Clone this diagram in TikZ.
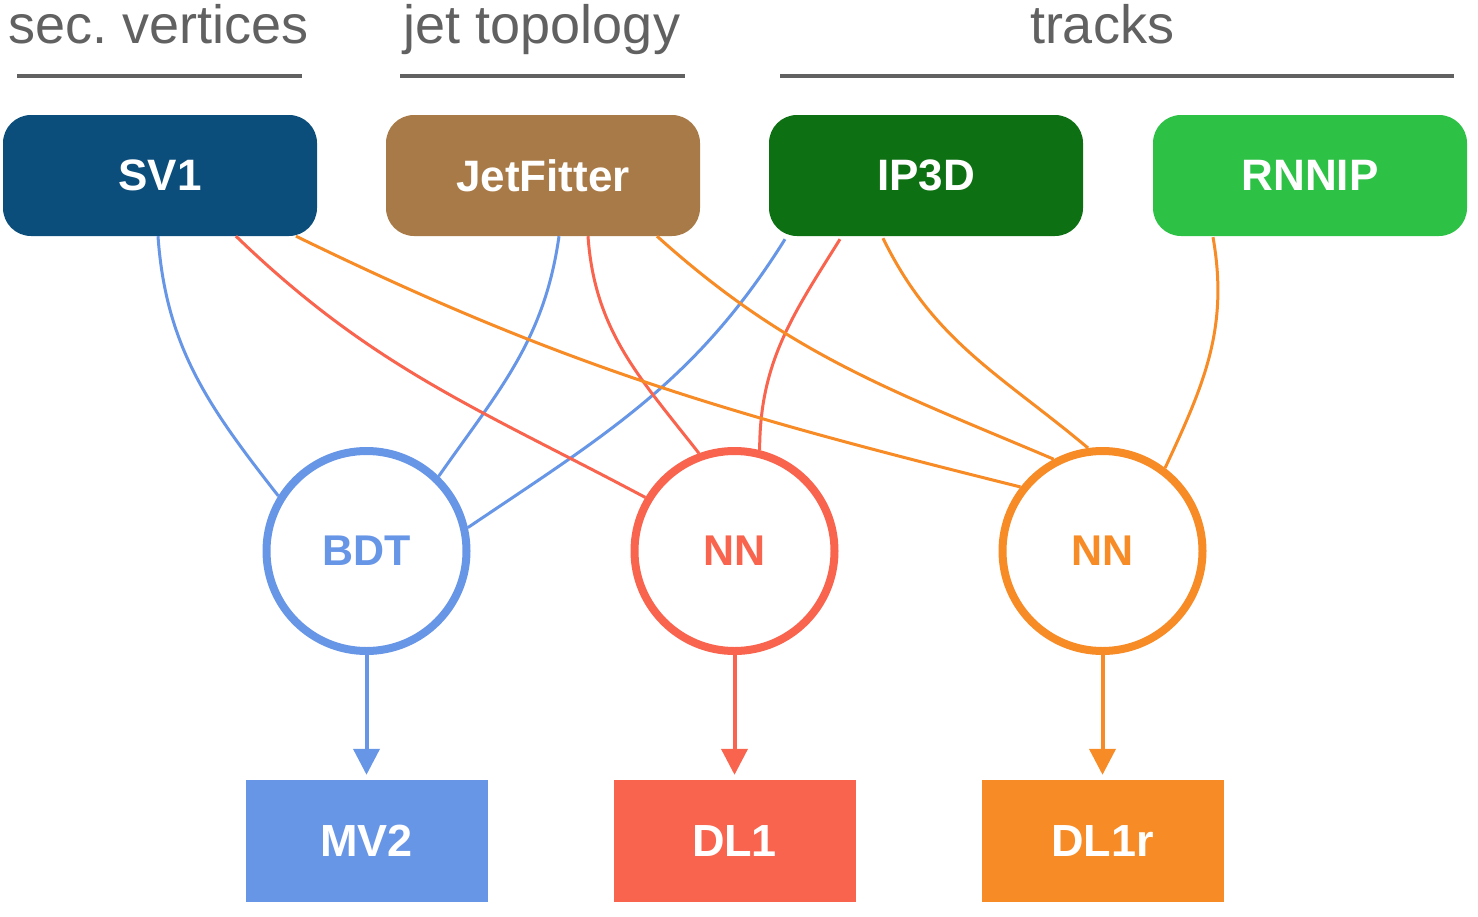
\documentclass[tikz,border=0pt]{standalone}
\usepackage{fontspec}
\setmainfont{Liberation Sans}
\usetikzlibrary{arrows.meta}
\definecolor{svc}{RGB}{11,78,124}
\definecolor{jfc}{RGB}{168,122,71}
\definecolor{ipc}{RGB}{13,112,19}
\definecolor{rnc}{RGB}{45,193,70}
\definecolor{cblue}{RGB}{104,150,231}
\definecolor{cred}{RGB}{249,100,78}
\definecolor{corange}{RGB}{247,139,38}
\definecolor{hdrgray}{RGB}{97,97,97}
\frenchspacing
\begin{document}
\begin{tikzpicture}[x=1pt,y=1pt,
  hdr/.style={font=\fontsize{54}{60}\selectfont, text=hdrgray, anchor=base, inner sep=0pt},
  hline/.style={draw=hdrgray, line width=4pt},
  algo/.style={rectangle, rounded corners=28pt, minimum width=314pt, minimum height=121pt, inner sep=0pt, fill=#1, text=white, font=\bfseries\fontsize{44}{50}\selectfont},
  clf/.style={circle, minimum size=200pt, inner sep=0pt, line width=8pt, draw=#1, text=#1, fill=white, font=\bfseries\fontsize{43}{50}\selectfont},
  tagger/.style={rectangle, minimum width=242pt, minimum height=122pt, inner sep=0pt, fill=#1, text=white, font=\bfseries\fontsize{45}{50}\selectfont},
  conn/.style={draw=#1, line width=3pt},
  feed/.style={draw=#1, line width=4pt, -{Triangle[width=26pt,length=26pt]}, shorten >=5pt}
]
\path[use as bounding box] (0,0) rectangle (1478,-916);

% headers
\node[hdr] (t1) at (159,-43) {sec. vertices};
\node[hdr] (t2) at (542,-43) {jet topology};
\node[hdr] (t3) at (1102,-43) {tracks};
\coordinate (h1a) at (17,-76);  \coordinate (h1b) at (302,-76);
\coordinate (h2a) at (400,-76); \coordinate (h2b) at (685,-76);
\coordinate (h3a) at (780,-76); \coordinate (h3b) at (1454,-76);
\draw[hline] (h1a) -- (h1b);
\draw[hline] (h2a) -- (h2b);
\draw[hline] (h3a) -- (h3b);

% algorithm boxes
\node[algo=svc] (sv1) at (160,-175.5) {SV1};
\node[algo=jfc] (jf) at (543,-175.5) {JetFitter};
\node[algo=ipc] (ip3d) at (926,-175.5) {IP3D};
\node[algo=rnc] (rnnip) at (1310,-175.5) {RNNIP};

% classifiers
\node[clf=cblue] (bdt) at (366.5,-551) {BDT};
\node[clf=cred] (nn1) at (734.5,-551) {NN};
\node[clf=corange] (nn2) at (1102.5,-551) {NN};

% connectors to BDT
\draw[conn=cblue] ([xshift=-2pt]sv1.south) to[out=-86,in=128] (bdt.148);
\draw[conn=cblue] ([xshift=16pt]jf.south) to[out=-98,in=55] (bdt.46);
\draw[conn=cblue] ([xshift=-141pt,yshift=-3pt]ip3d.south) to[out=-122,in=34] (bdt.13);

% connectors to NN (DL1)
\draw[conn=cred] ([xshift=76pt]sv1.south) to[out=-44,in=152] (nn1.149);
\draw[conn=cred] ([xshift=45pt]jf.south) to[out=-86,in=128] (nn1.110);
\draw[conn=cred] ([xshift=-86pt,yshift=-3pt]ip3d.south) to[out=-122,in=90] (nn1.76);

% connectors to NN (DL1r)
\draw[conn=corange] ([xshift=136pt]sv1.south) to[out=-26,in=166] (nn2.142);
\draw[conn=corange] ([xshift=114pt]jf.south) to[out=-42,in=157] (nn2.118);
\draw[conn=corange] ([xshift=-43pt,yshift=-2pt]ip3d.south) to[out=-64,in=140] (nn2.98);
\draw[conn=corange] ([xshift=-97pt,yshift=-1pt]rnnip.south) to[out=-80,in=65] (nn2.53);

% taggers
\node[tagger=cblue] (mv2) at (366.5,-841) {MV2};
\node[tagger=cred] (dl1) at (734.5,-841) {DL1};
\node[tagger=corange] (dl1r) at (1102.5,-841) {DL1r};

\draw[feed=cblue] (bdt) -- (mv2);
\draw[feed=cred] (nn1) -- (dl1);
\draw[feed=corange] (nn2) -- (dl1r);
\end{tikzpicture}
\end{document}
